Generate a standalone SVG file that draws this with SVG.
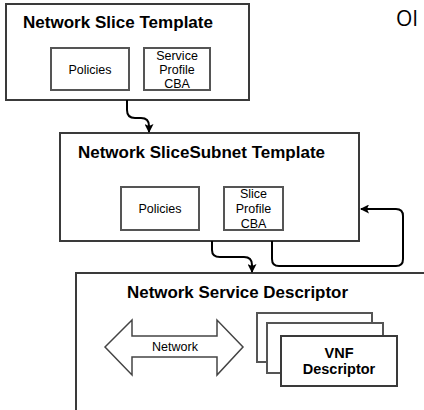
<svg xmlns="http://www.w3.org/2000/svg" width="424" height="410" viewBox="0 0 424 410">
<defs>
<style>
.box{fill:#fff;stroke:#3a3a3a;stroke-width:2}
.ibox{fill:#fff;stroke:#555;stroke-width:2}
.title{font-family:"Liberation Sans",Arial,sans-serif;font-weight:bold;font-size:17px;fill:#000}
.lbl{font-family:"Liberation Sans",Arial,sans-serif;font-size:12.5px;fill:#000;text-anchor:middle}
.blbl{font-family:"Liberation Sans",Arial,sans-serif;font-weight:bold;font-size:14.5px;fill:#000;text-anchor:middle}
.edge{fill:none;stroke:#000;stroke-width:2}
</style>
<marker id="ah" markerWidth="9" markerHeight="9" refX="8" refY="4.5" orient="auto" markerUnits="userSpaceOnUse" viewBox="0 0 9 9">
<path d="M0,0 L9,4.5 L0,9 L2,4.5 Z" fill="#000"/>
</marker>
</defs>
<rect width="424" height="410" fill="#fff"/>
<text x="396" y="26" font-family="'Open Sans','Liberation Sans',sans-serif" font-size="21" fill="#000">OI</text>

<g id="nst">
<rect class="box" x="6" y="4" width="243" height="96"/>
<text class="title" x="23" y="28" textLength="190" lengthAdjust="spacingAndGlyphs">Network Slice Template</text>
<rect class="ibox" x="51" y="48" width="78" height="42"/>
<text class="lbl" x="90" y="74">Policies</text>
<rect class="ibox" x="144" y="48" width="66" height="42"/>
<text class="lbl" x="177" y="60">Service</text>
<text class="lbl" x="177" y="74">Profile</text>
<text class="lbl" x="177" y="88">CBA</text>
</g>

<g id="nsst">
<rect class="box" x="60" y="133" width="299" height="108"/>
<text class="title" x="78" y="158" textLength="247" lengthAdjust="spacingAndGlyphs">Network SliceSubnet Template</text>
<rect class="ibox" x="121" y="187" width="78" height="43"/>
<text class="lbl" x="160" y="213">Policies</text>
<rect class="ibox" x="224" y="187" width="59" height="43"/>
<text class="lbl" x="253.5" y="198">Slice</text>
<text class="lbl" x="253.5" y="213">Profile</text>
<text class="lbl" x="253.5" y="228">CBA</text>
</g>

<g id="nsd">
<rect class="box" x="76" y="273" width="360" height="150"/>
<text class="title" x="127" y="298" textLength="221" lengthAdjust="spacingAndGlyphs">Network Service Descriptor</text>
<g id="network">
<path d="M105,347 L132,320 L132,336 L217,336 L217,320 L243,347 L217,375 L217,357 L132,357 L132,375 Z" fill="#fff" stroke="#444" stroke-width="1.5"/>
<text class="lbl" x="175" y="351">Network</text>
</g>
<g id="vnfd">
<rect class="ibox" x="257" y="313" width="115" height="49"/>
<rect class="ibox" x="267" y="323" width="116" height="50"/>
<rect class="box" x="281" y="336" width="116" height="50"/>
<text class="blbl" x="339" y="358">VNF</text>
<text class="blbl" x="339" y="374">Descriptor</text>
</g>
</g>

<g id="connectors">
<path class="edge" d="M127,100 L127,110 Q127,118 135,118 L141,118 Q149,118 149,126 L149,132" marker-end="url(#ah)"/>
<path class="edge" d="M212,241 L212,250 Q212,257 220,257 L244,257 Q252,257 252,265 L252,272" marker-end="url(#ah)"/>
<path class="edge" d="M272,241 L272,259 Q272,266 279,266 L396,266 Q403,266 403,259 L403,216 Q403,209 396,209 L361,209" marker-end="url(#ah)"/>
</g>
</svg>
